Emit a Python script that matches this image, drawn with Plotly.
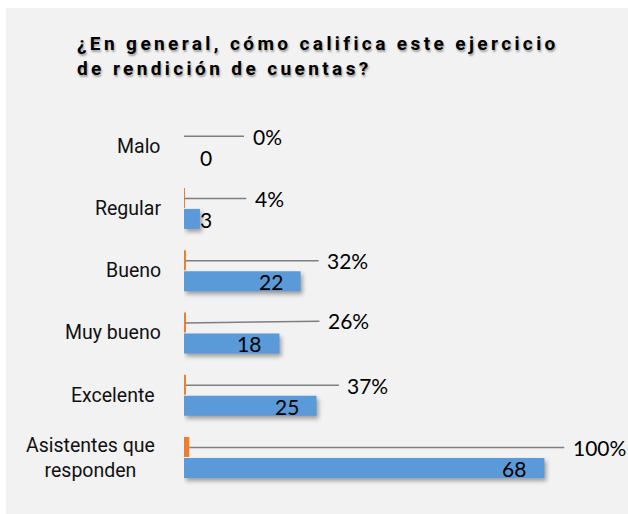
import plotly.graph_objects as go

# ---- data ----
categories = ["Malo", "Regular", "Bueno", "Muy bueno", "Excelente", "Asistentes que responden"]
category_labels = ["Malo", "Regular", "Bueno", "Muy bueno", "Excelente", "Asistentes que<br>responden"]
counts = [0, 3, 22, 18, 25, 68]
percents = [0.0, 0.04, 0.32, 0.26, 0.37, 1.0]
title_text = "¿En general, cómo califica este ejercicio<br>de rendición de cuentas?"

# ---- layout geometry (pixels) ----
W, H = 628, 514
ML, MR, MT, MB = 184, 20, 115, 25
PW = W - ML - MR
PH = H - MT - MB
XMAX = 80

BLUE = "#5a9ad8"
ORANGE = "#ed7d31"
LINE = "#7f7f7f"
LABEL_FONT = "Lato, Carlito, Calibri"

fig = go.Figure()
fig.add_trace(go.Bar(
    y=categories, x=percents, orientation="h", name="%",
    marker=dict(color=ORANGE, line=dict(width=0)), hoverinfo="skip",
))
fig.add_trace(go.Bar(
    y=categories, x=counts, orientation="h", name="Cantidad",
    marker=dict(color=BLUE, line=dict(width=0)), hoverinfo="skip",
))

annotations = []
# category labels
label_shift = [-21, -21, -21, -21, -27, -27]
for cat, lab, sh in zip(categories, category_labels, label_shift):
    annotations.append(dict(
        x=0, y=cat, xref="x", yref="y", text=lab, showarrow=False,
        xanchor="right", align="center", xshift=sh,
        font=dict(family="Roboto, Arial", size=19.5, color="#111111"),
    ))

# count labels (inside end of blue bars)
for cat, v in zip(categories, counts):
    if v < 5:
        annotations.append(dict(
            x=0, y=cat, text=str(v), showarrow=False, xanchor="left",
            xshift=14, yshift=-11,
            font=dict(family=LABEL_FONT, size=21, color="#000000"),
        ))
    else:
        annotations.append(dict(
            x=v, y=cat, text=str(v), showarrow=False, xanchor="right",
            xshift=-16, yshift=-11,
            font=dict(family=LABEL_FONT, size=21, color="#000000"),
        ))

# percentage labels with leader lines
pct_offsets = [83, 85, 162, 163, 182, 410]
pct_ay = [0, 0, 0, -2, 0, 0]
for cat, p, ax, ay in zip(categories, percents, pct_offsets, pct_ay):
    annotations.append(dict(
        x=p, y=cat, text=f"{round(p * 100)}%", showarrow=True,
        arrowhead=0, arrowwidth=1.5, arrowcolor=LINE, standoff=0,
        ax=ax, ay=ay, yshift=10, borderpad=8,
        font=dict(family=LABEL_FONT, size=21, color="#000000"),
    ))

# background panel (chart area) in paper coords
bg = dict(
    type="rect", xref="paper", yref="paper", layer="below",
    x0=(6 - ML) / PW, x1=(W - ML) / PW,
    y0=(H - MB - H) / PH, y1=(H - MB - 8) / PH,
    fillcolor="#f2f2f2", line=dict(width=0),
)

fig.update_layout(
    width=W, height=H,
    margin=dict(l=ML, r=MR, t=MT, b=MB),
    paper_bgcolor="white", plot_bgcolor="rgba(0,0,0,0)",
    barmode="group", bargap=0.325, bargroupgap=0.05,
    showlegend=False,
    title=dict(
        text=title_text, xref="container", yref="container",
        x=77 / W, xanchor="left", y=1 - 50 / H, yanchor="top",
        font=dict(family="Roboto, Arial", size=19, color="#000000",
                  weight="bold", shadow="1px 2px 2px rgba(0,0,0,0.35)"),
    ),
    xaxis=dict(range=[0, XMAX], visible=False, showgrid=False, zeroline=False),
    yaxis=dict(autorange="reversed", showticklabels=False, showgrid=False,
               zeroline=False, showline=False, ticks="",
               categoryorder="array", categoryarray=categories),
    annotations=annotations,
    shapes=[bg],
)

post = """
document.body.style.margin = '0';
document.querySelectorAll('.gtitle').forEach(function(e){e.style.letterSpacing='3.4px';});
var tr = document.querySelectorAll('.barlayer .trace');
if (tr.length > 1) { tr[1].style.filter = 'drop-shadow(2px 3px 2px rgba(0,0,0,0.35))'; }
"""
fig.write_html("out.html", post_script=post, config={"displayModeBar": False})
